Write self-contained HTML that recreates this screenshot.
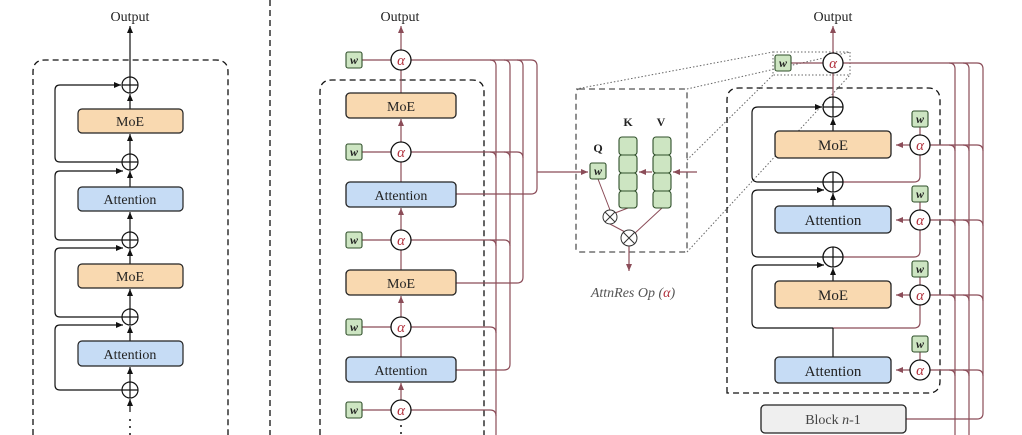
<!DOCTYPE html>
<html><head><meta charset="utf-8"><style>
body{margin:0;background:#fff}
svg{display:block}
text{font-family:"Liberation Serif",serif;fill:#222}
text.a, tspan.a{fill:#b0303c}
</style></head><body>
<svg width="1022" height="435" viewBox="0 0 1022 435" xmlns="http://www.w3.org/2000/svg">
<defs>
<marker id="ab" markerWidth="8" markerHeight="8" refX="7" refY="4" orient="auto" markerUnits="userSpaceOnUse"><path d="M0,1 L7,4 L0,7 Z" fill="#111"/></marker>
<marker id="ar" markerWidth="8" markerHeight="8" refX="7" refY="4" orient="auto" markerUnits="userSpaceOnUse"><path d="M0,1 L7,4 L0,7 Z" fill="#8b4c58"/></marker>
</defs>

<!-- ===== LEFT PANEL ===== -->
<text x="130" y="21" font-size="14" text-anchor="middle">Output</text>
<path d="M33,435 V72 Q33,60 45,60 H216 Q228,60 228,72 V435" fill="none" stroke="#111" stroke-width="1.3" stroke-dasharray="6,4"/>
<line x1="130" y1="77" x2="130" y2="26" stroke="#111" stroke-width="1.2" marker-end="url(#ab)"/>
<g stroke="#111" stroke-width="1.2" fill="none">
<line x1="130" y1="109" x2="130" y2="94" marker-end="url(#ab)"/>
<line x1="130" y1="154" x2="130" y2="134" marker-end="url(#ab)"/>
<line x1="130" y1="187" x2="130" y2="171" marker-end="url(#ab)"/>
<line x1="130" y1="232" x2="130" y2="212" marker-end="url(#ab)"/>
<line x1="130" y1="264" x2="130" y2="249" marker-end="url(#ab)"/>
<line x1="130" y1="309" x2="130" y2="289" marker-end="url(#ab)"/>
<line x1="130" y1="341" x2="130" y2="326" marker-end="url(#ab)"/>
<line x1="130" y1="382" x2="130" y2="367" marker-end="url(#ab)"/>
<line x1="130" y1="412" x2="130" y2="399" marker-end="url(#ab)"/>
<path d="M122,162 H60 Q55,162 55,157 V90 Q55,85 60,85 H121" marker-end="url(#ab)"/>
<path d="M122,240 H60 Q55,240 55,235 V176 Q55,171 60,171 H123" marker-end="url(#ab)"/>
<path d="M122,317 H60 Q55,317 55,312 V253 Q55,248 60,248 H123" marker-end="url(#ab)"/>
<path d="M122,390 H60 Q55,390 55,385 V330 Q55,325 60,325 H123" marker-end="url(#ab)"/>
</g>
<g fill="#111"><circle cx="130" cy="420" r="1"/><circle cx="130" cy="427" r="1"/><circle cx="130" cy="434" r="1"/></g>
<g stroke="#111" stroke-width="1.2" fill="#fff">
<circle cx="130" cy="85" r="8"/><circle cx="130" cy="162" r="8"/><circle cx="130" cy="240" r="8"/><circle cx="130" cy="317" r="8"/><circle cx="130" cy="390" r="8"/>
</g>
<g stroke="#111" stroke-width="1.2">
<path d="M122,85H138M130,77V93M122,162H138M130,154V170M122,240H138M130,232V248M122,317H138M130,309V325M122,390H138M130,382V398"/>
</g>
<g stroke="#222" stroke-width="1.2">
<rect x="78" y="109" width="105" height="24" rx="4" fill="#f9d9b0"/>
<rect x="78" y="187" width="105" height="24" rx="4" fill="#c6dcf5"/>
<rect x="78" y="264" width="105" height="24" rx="4" fill="#f9d9b0"/>
<rect x="78" y="341" width="105" height="25" rx="4" fill="#c6dcf5"/>
</g>
<g font-size="14" text-anchor="middle">
<text x="130" y="126">MoE</text><text x="130" y="204">Attention</text><text x="130" y="281">MoE</text><text x="130" y="359">Attention</text>
</g>

<line x1="270" y1="0" x2="270" y2="435" stroke="#111" stroke-width="1.3" stroke-dasharray="6,4"/>

<!-- ===== MIDDLE PANEL ===== -->
<text x="400" y="21" font-size="14" text-anchor="middle">Output</text>
<path d="M320,435 V92 Q320,80 332,80 H472 Q484,80 484,92 V435" fill="none" stroke="#111" stroke-width="1.3" stroke-dasharray="6,4"/>
<g stroke="#8b4c58" stroke-width="1.2" fill="none">
<line x1="401" y1="50" x2="401" y2="26" marker-end="url(#ar)"/>
<line x1="401" y1="93" x2="401" y2="70"/><line x1="401" y1="142" x2="401" y2="119" marker-end="url(#ar)"/>
<line x1="401" y1="182" x2="401" y2="162"/><line x1="401" y1="230" x2="401" y2="208" marker-end="url(#ar)"/>
<line x1="401" y1="270" x2="401" y2="250"/><line x1="401" y1="317" x2="401" y2="296" marker-end="url(#ar)"/>
<line x1="401" y1="357" x2="401" y2="337"/><line x1="401" y1="400" x2="401" y2="383" marker-end="url(#ar)"/>
<path d="M362,60H391M362,152H391M362,240H391M362,327H391M362,410H391"/>
<path d="M411,60 H531 Q537,60 537,66 V188 Q537,194 531,194 H456"/>
<path d="M517,60 Q523,60 523,66 V277 Q523,283 517,283 H456"/>
<path d="M504,60 Q510,60 510,66 V364 Q510,370 504,370 H456"/>
<path d="M490,60 Q496,60 496,66 V435"/>
<path d="M411,152 H517 Q523,152 523,158"/><path d="M504,152 Q510,152 510,158"/><path d="M490,152 Q496,152 496,158"/>
<path d="M411,240 H504 Q510,240 510,246"/><path d="M490,240 Q496,240 496,246"/>
<path d="M411,327 H490 Q496,327 496,333"/>
<path d="M411,410 H490 Q496,410 496,416"/>
<line x1="537" y1="172" x2="588" y2="172" marker-end="url(#ar)"/>
</g>
<g stroke="#111" stroke-width="1.3" fill="#fff">
<circle cx="401" cy="60" r="10"/><circle cx="401" cy="152" r="10"/><circle cx="401" cy="240" r="10"/><circle cx="401" cy="327" r="10"/><circle cx="401" cy="410" r="10"/>
</g>
<g font-size="15" text-anchor="middle" font-style="italic">
<text class="a" x="401" y="65">α</text><text class="a" x="401" y="157">α</text><text class="a" x="401" y="245">α</text><text class="a" x="401" y="332">α</text><text class="a" x="401" y="415">α</text>
</g>
<g stroke="#2f4f2a" stroke-width="1.1" fill="#cde5c2">
<rect x="346" y="52" width="16" height="16" rx="2"/><rect x="346" y="144" width="16" height="16" rx="2"/><rect x="346" y="232" width="16" height="16" rx="2"/><rect x="346" y="319" width="16" height="16" rx="2"/><rect x="346" y="402" width="16" height="16" rx="2"/>
</g>
<g font-size="12" text-anchor="middle" font-weight="bold" font-style="italic">
<text x="354" y="64">w</text><text x="354" y="156">w</text><text x="354" y="244">w</text><text x="354" y="331">w</text><text x="354" y="414">w</text>
</g>
<g stroke="#222" stroke-width="1.3">
<rect x="346" y="93" width="110" height="25" rx="4" fill="#f9d9b0"/>
<rect x="346" y="182" width="110" height="25" rx="4" fill="#c6dcf5"/>
<rect x="346" y="270" width="110" height="25" rx="4" fill="#f9d9b0"/>
<rect x="346" y="357" width="110" height="25" rx="4" fill="#c6dcf5"/>
</g>
<g font-size="14" text-anchor="middle">
<text x="401" y="111">MoE</text><text x="401" y="200">Attention</text><text x="401" y="288">MoE</text><text x="401" y="375">Attention</text>
</g>
<g fill="#111"><circle cx="401" cy="426" r="1"/><circle cx="401" cy="433" r="1"/></g>

<!-- ===== ATTNRES OP ===== -->
<g stroke="#666" stroke-width="1" stroke-dasharray="1.5,2" fill="none">
<line x1="576" y1="89" x2="773" y2="52"/>
<line x1="687" y1="160" x2="773" y2="75"/>
<line x1="687" y1="252" x2="850" y2="75"/>
<line x1="687" y1="89" x2="850" y2="52"/>
<rect x="773" y="52" width="77" height="23"/>
</g>
<rect x="576" y="89" width="111" height="163" rx="3" fill="none" stroke="#555" stroke-width="1.3" stroke-dasharray="6,4"/>
<text x="598" y="152" font-size="12" font-weight="bold" text-anchor="middle">Q</text>
<text x="628" y="126" font-size="12" font-weight="bold" text-anchor="middle">K</text>
<text x="661" y="126" font-size="12" font-weight="bold" text-anchor="middle">V</text>
<g stroke="#8b4c58" stroke-width="1" fill="none">
<line x1="598" y1="179" x2="610" y2="210"/>
<line x1="628" y1="208" x2="615" y2="213"/>
<line x1="662" y1="208" x2="634" y2="234"/>
<line x1="610" y1="224" x2="625" y2="232"/>
</g>
<g stroke="#8b4c58" stroke-width="1.2" fill="none">
<line x1="697" y1="172" x2="673" y2="172" marker-end="url(#ar)"/>
<line x1="652" y1="172" x2="639" y2="172" marker-end="url(#ar)"/>
<line x1="629" y1="246" x2="629" y2="271" marker-end="url(#ar)"/>
</g>
<g stroke="#2f4f2a" stroke-width="1.1" fill="#cde5c2">
<rect x="590" y="163" width="16" height="16" rx="2"/>
<rect x="619" y="137" width="18" height="18" rx="3"/><rect x="619" y="155" width="18" height="18" rx="3"/><rect x="619" y="173" width="18" height="18" rx="3"/><rect x="619" y="191" width="18" height="17" rx="3"/>
<rect x="653" y="137" width="18" height="18" rx="3"/><rect x="653" y="155" width="18" height="18" rx="3"/><rect x="653" y="173" width="18" height="18" rx="3"/><rect x="653" y="191" width="18" height="17" rx="3"/>
</g>
<text x="598" y="175" font-size="12" font-weight="bold" font-style="italic" text-anchor="middle">w</text>
<g stroke="#333" stroke-width="1" fill="#fff">
<circle cx="610" cy="217" r="7"/><circle cx="629" cy="238" r="8"/>
<path d="M605,212L615,222M615,212L605,222M623,232L635,244M635,232L623,244"/>
</g>
<text x="633" y="297" font-size="14" font-style="italic" text-anchor="middle" style="fill:#555">AttnRes Op (<tspan class="a">α</tspan>)</text>

<!-- ===== RIGHT PANEL ===== -->
<text x="833" y="21" font-size="14" text-anchor="middle">Output</text>
<path d="M727,393 V100 Q727,88 739,88 H928 Q940,88 940,100 V381 Q940,393 928,393 Z" fill="none" stroke="#111" stroke-width="1.3" stroke-dasharray="6,4"/>
<g stroke="#8b4c58" stroke-width="1.2" fill="none">
<line x1="833" y1="53" x2="833" y2="26" marker-end="url(#ar)"/>
<line x1="833" y1="97" x2="833" y2="73"/>
<line x1="791" y1="63" x2="823" y2="63"/>
<path d="M843,63 H977 Q983,63 983,69 V413 Q983,419 977,419 H906"/>
<path d="M963,63 Q969,63 969,69 V435"/><path d="M949,63 Q955,63 955,69 V435"/>
<path d="M930,145 H977 Q983,145 983,151"/><path d="M963,145 Q969,145 969,151"/><path d="M949,145 Q955,145 955,151"/>
<path d="M930,220 H977 Q983,220 983,226"/><path d="M963,220 Q969,220 969,226"/><path d="M949,220 Q955,220 955,226"/>
<path d="M930,295 H977 Q983,295 983,301"/><path d="M963,295 Q969,295 969,301"/><path d="M949,295 Q955,295 955,301"/>
<path d="M930,370 H977 Q983,370 983,376"/><path d="M963,370 Q969,370 969,376"/><path d="M949,370 Q955,370 955,376"/>
<line x1="910" y1="145" x2="896" y2="145" marker-end="url(#ar)"/>
<line x1="910" y1="220" x2="896" y2="220" marker-end="url(#ar)"/>
<line x1="910" y1="295" x2="896" y2="295" marker-end="url(#ar)"/>
<line x1="910" y1="370" x2="896" y2="370" marker-end="url(#ar)"/>
<path d="M920,127V135M920,202V210M920,277V285M920,352V360"/>
<path d="M920,155 V176 Q920,182 914,182 H843"/>
<path d="M920,230 V251 Q920,257 914,257 H843"/>
<path d="M920,305 V322 Q920,328 914,328 H833"/>
</g>
<g stroke="#111" stroke-width="1.2" fill="none">
<line x1="833" y1="131" x2="833" y2="118" marker-end="url(#ab)"/>
<line x1="833" y1="206" x2="833" y2="193" marker-end="url(#ab)"/>
<line x1="833" y1="281" x2="833" y2="268" marker-end="url(#ab)"/>
<line x1="833" y1="357" x2="833" y2="328"/>
<path d="M823,182 H758 Q752,182 752,176 V113 Q752,107 758,107 H822" marker-end="url(#ab)"/>
<path d="M823,257 H758 Q752,257 752,251 V196 Q752,190 758,190 H824" marker-end="url(#ab)"/>
<path d="M833,328 H758 Q752,328 752,322 V271 Q752,265 758,265 H824" marker-end="url(#ab)"/>
</g>
<g stroke="#111" stroke-width="1.3" fill="#fff">
<circle cx="833" cy="107" r="10"/><circle cx="833" cy="182" r="10"/><circle cx="833" cy="257" r="10"/>
</g>
<g stroke="#111" stroke-width="1.2"><path d="M823,107H843M833,97V117M823,182H843M833,172V192M823,257H843M833,247V267"/></g>
<g stroke="#111" stroke-width="1.3" fill="#fff">
<circle cx="833" cy="63" r="10"/><circle cx="920" cy="145" r="10"/><circle cx="920" cy="220" r="10"/><circle cx="920" cy="295" r="10"/><circle cx="920" cy="370" r="10"/>
</g>
<g font-size="15" text-anchor="middle" font-style="italic">
<text class="a" x="833" y="68">α</text><text class="a" x="920" y="150">α</text><text class="a" x="920" y="225">α</text><text class="a" x="920" y="300">α</text><text class="a" x="920" y="375">α</text>
</g>
<g stroke="#2f4f2a" stroke-width="1.1" fill="#cde5c2">
<rect x="775" y="55" width="16" height="16" rx="2"/><rect x="912" y="111" width="16" height="16" rx="2"/><rect x="912" y="186" width="16" height="16" rx="2"/><rect x="912" y="261" width="16" height="16" rx="2"/><rect x="912" y="336" width="16" height="16" rx="2"/>
</g>
<g font-size="12" text-anchor="middle" font-weight="bold" font-style="italic">
<text x="783" y="67">w</text><text x="920" y="123">w</text><text x="920" y="198">w</text><text x="920" y="273">w</text><text x="920" y="348">w</text>
</g>
<g stroke="#222" stroke-width="1.3">
<rect x="775" y="131" width="116" height="27" rx="4" fill="#f9d9b0"/>
<rect x="775" y="206" width="116" height="27" rx="4" fill="#c6dcf5"/>
<rect x="775" y="281" width="116" height="27" rx="4" fill="#f9d9b0"/>
<rect x="775" y="357" width="116" height="26" rx="4" fill="#c6dcf5"/>
<rect x="761" y="405" width="145" height="28" rx="4" fill="#efefef"/>
</g>
<g font-size="15" text-anchor="middle">
<text x="833" y="150">MoE</text><text x="833" y="225">Attention</text><text x="833" y="300">MoE</text><text x="833" y="376">Attention</text>
</g>
<text x="833" y="424" font-size="14" text-anchor="middle" style="fill:#444">Block <tspan font-style="italic">n</tspan>-1</text>
</svg>
</body></html>
